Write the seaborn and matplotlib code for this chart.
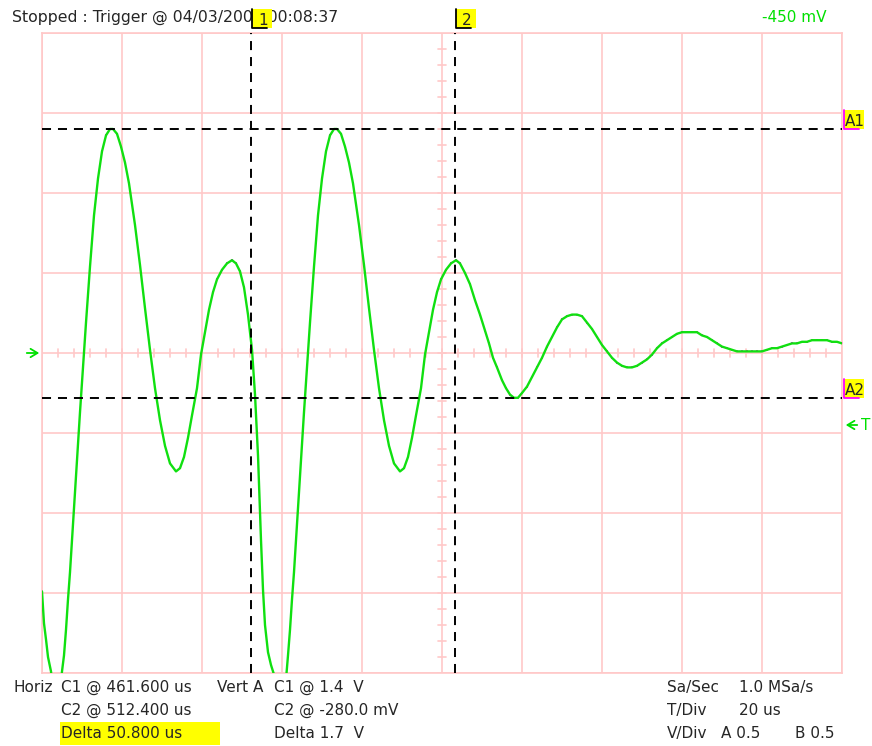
import numpy as np
import pandas as pd
import matplotlib
matplotlib.use("Agg")
import matplotlib.pyplot as plt
from matplotlib.patches import Rectangle
from matplotlib.lines import Line2D
import seaborn as sns

# trace: time in microseconds, level in volts
time_us = [409.25, 409.75, 410.25, 410.75, 411.5, 412.0, 412.75, 413.5, 414.25, 414.75,
           415.25, 415.75, 416.25, 416.75, 417.25, 418.0, 418.75, 419.5, 420.25, 421.25,
           422.25, 423.25, 424.25, 425.25, 426.25, 427.0, 428.0, 429.0, 430.0, 431.0,
           432.5, 433.75, 435.0, 436.25, 437.5, 438.75, 440.0, 441.25, 442.75, 443.75,
           444.75, 445.75, 446.75, 448.0, 449.0, 450.0, 451.0, 452.0, 453.0, 454.25,
           455.5, 456.75, 457.75, 458.75, 459.75, 460.75, 461.75, 462.5, 463.25, 464.0,
           464.5, 465.0, 465.75, 466.5, 467.25, 468.0, 468.75, 469.5, 470.25, 470.75,
           471.25, 471.75, 472.25, 472.75, 473.25, 474.0, 474.75, 475.5, 476.25, 477.25,
           478.25, 479.25, 480.25, 481.25, 482.25, 483.0, 484.0, 485.0, 486.0, 487.0,
           488.5, 489.75, 491.0, 492.25, 493.5, 494.75, 496.0, 497.25, 498.75, 499.75,
           500.75, 501.75, 502.75, 504.0, 505.0, 506.0, 507.0, 508.0, 509.0, 510.25,
           511.5, 512.75, 513.75, 515.0, 516.25, 517.5, 518.75, 520.0, 521.0, 522.0,
           523.0, 524.25, 525.25, 526.25, 527.25, 528.25, 529.25, 530.5, 531.75, 533.0,
           534.25, 535.5, 536.75, 538.0, 539.25, 540.5, 541.75, 543.0, 544.25, 545.5,
           546.75, 548.0, 549.25, 550.5, 551.75, 553.0, 554.25, 555.5, 556.75, 558.0,
           559.25, 560.5, 561.75, 563.0, 564.25, 565.5, 566.75, 568.0, 569.25, 570.5,
           571.75, 573.0, 574.25, 575.5, 576.75, 578.0, 579.25, 580.5, 581.75, 583.0,
           584.25, 585.5, 586.75, 588.0, 589.25, 590.5, 591.75, 593.0, 594.25, 595.5,
           596.75, 598.0, 599.25, 600.5, 601.75, 603.0, 604.25, 605.5, 606.75, 608.0,
           609.25]
volts = [-1.49, -1.69, -1.79, -1.90, -1.99, -2.11, -2.20, -2.17, -1.99, -1.89,
         -1.73, -1.54, -1.37, -1.17, -0.98, -0.67, -0.37, -0.09, 0.19, 0.54,
         0.86, 1.09, 1.26, 1.36, 1.40, 1.40, 1.37, 1.29, 1.19, 1.06,
         0.80, 0.55, 0.28, 0.02, -0.22, -0.42, -0.58, -0.69, -0.74, -0.72,
         -0.65, -0.53, -0.39, -0.22, -0.01, 0.13, 0.27, 0.38, 0.46, 0.52,
         0.56, 0.58, 0.56, 0.51, 0.41, 0.24, 0.02, -0.26, -0.64, -1.17,
         -1.48, -1.70, -1.87, -1.95, -2.01, -2.14, -2.20, -2.17, -2.04, -1.89,
         -1.73, -1.54, -1.37, -1.17, -0.98, -0.67, -0.37, -0.09, 0.19, 0.54,
         0.86, 1.09, 1.26, 1.36, 1.40, 1.40, 1.37, 1.29, 1.19, 1.06,
         0.80, 0.55, 0.28, 0.02, -0.22, -0.42, -0.58, -0.69, -0.74, -0.72,
         -0.65, -0.53, -0.39, -0.22, -0.01, 0.13, 0.27, 0.38, 0.46, 0.52,
         0.56, 0.58, 0.56, 0.50, 0.43, 0.33, 0.24, 0.14, 0.06, -0.03,
         -0.09, -0.17, -0.22, -0.26, -0.28, -0.28, -0.25, -0.21, -0.15, -0.09,
         -0.03, 0.04, 0.10, 0.16, 0.21, 0.23, 0.24, 0.24, 0.23, 0.19,
         0.15, 0.10, 0.05, 0.01, -0.03, -0.06, -0.08, -0.09, -0.09, -0.08,
         -0.06, -0.04, -0.01, 0.03, 0.06, 0.08, 0.10, 0.12, 0.13, 0.13,
         0.13, 0.13, 0.11, 0.10, 0.08, 0.06, 0.04, 0.03, 0.02, 0.01,
         0.01, 0.01, 0.01, 0.01, 0.01, 0.02, 0.03, 0.03, 0.04, 0.05,
         0.06, 0.06, 0.07, 0.07, 0.08, 0.08, 0.08, 0.08, 0.07, 0.07,
         0.06]

cursor_time = [461.6, 512.4]     # us
cursor_volt = [1.4, -0.28]       # V
trigger_level = -0.45            # V
sample_rate = "1.0 MSa/s"
t_start, t_div, n_hdiv = 409.25, 20, 10
v_div, n_vdiv = 0.5, 8

sns.set_style("white")
plt.rcParams['font.family'] = ['DejaVu Sans']
plt.rcParams['lines.scale_dashes'] = False

W, H = 872, 746
pink = '#ffc8c8'
green = '#00e000'
yellow = '#ffff00'
fs = 11

fig = plt.figure(figsize=(W / 100, H / 100), dpi=100)
fig.patch.set_facecolor('white')
ax = fig.add_axes([42 / W, 1 - 673 / H, 800 / W, 640 / H])

t_end = t_start + t_div * n_hdiv
t_mid = t_start + t_div * n_hdiv / 2
v_top = v_div * n_vdiv / 2
ax.set_xlim(t_start, t_end)
ax.set_ylim(-v_top, v_top)
ax.set_xticks(np.arange(t_start, t_end + 1e-6, t_div))
ax.set_yticks(np.arange(-v_top, v_top + 1e-6, v_div))
ax.tick_params(length=0, labelbottom=False, labelleft=False)
ax.grid(True, color=pink, lw=1.2)
ax.set_axisbelow(True)
for s in ax.spines.values():
    s.set_color(pink)
    s.set_linewidth(1.2)

# small ticks on the centre cross
for tt in np.arange(t_start, t_end, t_div / 5):
    ax.plot([tt, tt], [-0.025, 0.025], color=pink, lw=1.2, zorder=1)
for vv in np.arange(-v_top, v_top, v_div / 5):
    ax.plot([t_mid - 1, t_mid + 1], [vv, vv], color=pink, lw=1.2, zorder=1)

df = pd.DataFrame({'Time (us)': time_us, 'Voltage (V)': volts})
sns.scatterplot(data=df, x='Time (us)', y='Voltage (V)', color='#ff00ff', marker='s',
                s=3, linewidth=0, ax=ax, zorder=2)
sns.lineplot(data=df, x='Time (us)', y='Voltage (V)', sort=False, estimator=None,
             color='#10e010', lw=1.7, ax=ax, zorder=3)
ax.set_xlabel('')
ax.set_ylabel('')

# cursors
for ct in cursor_time:
    ax.axvline(ct, color='black', lw=1.4, ls=(0, (6.5, 5)), zorder=4)
for cv in cursor_volt:
    ax.axhline(cv, color='black', lw=1.4, ls=(0, (6.5, 5)), zorder=4)


def fx(x):
    return x / W


def fy(y):
    return 1 - y / H


def tag(x0, y0, w, h, txt, edge):
    fig.add_artist(Rectangle((fx(x0), fy(y0 + h)), w / W, h / H, transform=fig.transFigure,
                             fc=yellow, ec='none', zorder=5))
    fig.add_artist(Line2D([fx(x0), fx(x0), fx(x0 + 15)], [fy(y0), fy(y0 + h), fy(y0 + h)],
                          transform=fig.transFigure, color=edge, lw=1.3, zorder=6))
    fig.text(fx(x0 + w / 2 + 1), fy(y0 + h - 3), txt, ha='center', va='baseline',
             fontsize=fs, zorder=7)


# header text
fig.text(fx(12), fy(22), "Stopped : Trigger @ 04/03/2005 00:08:37", fontsize=11.3,
         va='baseline', zorder=3)
fig.text(fx(762), fy(22), f"{trigger_level * 1000:.0f} mV", fontsize=fs, color=green,
         va='baseline')

for i, ct in enumerate(cursor_time):
    xp = ax.transData.transform((ct, 0))[0]
    tag(xp + 1, 9, 20, 19, str(i + 1), 'black')
for i, cv in enumerate(cursor_volt):
    yp = H - ax.transData.transform((0, cv))[1]
    tag(844, yp - 19, 20, 19, f"A{i + 1}", '#ff00ff')

# ground marker and trigger marker
y0 = H - ax.transData.transform((0, 0))[1]
ax.annotate('', xy=(fx(42), fy(y0)), xytext=(fx(24), fy(y0)), xycoords='figure fraction',
            arrowprops=dict(arrowstyle='->,head_length=0.5,head_width=0.3', color=green, lw=1.3))
yt = H - ax.transData.transform((0, trigger_level))[1]
ax.annotate('', xy=(fx(843), fy(yt)), xytext=(fx(860), fy(yt)), xycoords='figure fraction',
            arrowprops=dict(arrowstyle='->,head_length=0.5,head_width=0.3', color=green, lw=1.3))
fig.text(fx(861), fy(yt), "T", color=green, fontsize=fs, va='center')

# readout rows
b1, b2, b3 = 692, 715, 738
fig.add_artist(Rectangle((fx(60), fy(745)), 160 / W, 23 / H, transform=fig.transFigure,
                         fc=yellow, ec='none', zorder=1))
rows = [
    (13, b1, "Horiz"),
    (61, b1, f"C1 @ {cursor_time[0]:.3f} us"),
    (61, b2, f"C2 @ {cursor_time[1]:.3f} us"),
    (61, b3, f"Delta {cursor_time[1] - cursor_time[0]:.3f} us"),
    (217, b1, "Vert A"),
    (274, b1, f"C1 @ {cursor_volt[0]:.1f}  V"),
    (274, b2, f"C2 @ {cursor_volt[1] * 1000:.1f} mV"),
    (274, b3, f"Delta {cursor_volt[0] - cursor_volt[1]:.1f}  V"),
    (667, b1, "Sa/Sec"),
    (739, b1, sample_rate),
    (667, b2, "T/Div"),
    (739, b2, f"{t_div} us"),
    (667, b3, "V/Div"),
    (721, b3, f"A {v_div}"),
    (795, b3, f"B {v_div}"),
]
for x, y, s in rows:
    fig.text(fx(x), fy(y), s, fontsize=fs, va='baseline', zorder=3)

fig.savefig("out.png", dpi=100, facecolor='white')
